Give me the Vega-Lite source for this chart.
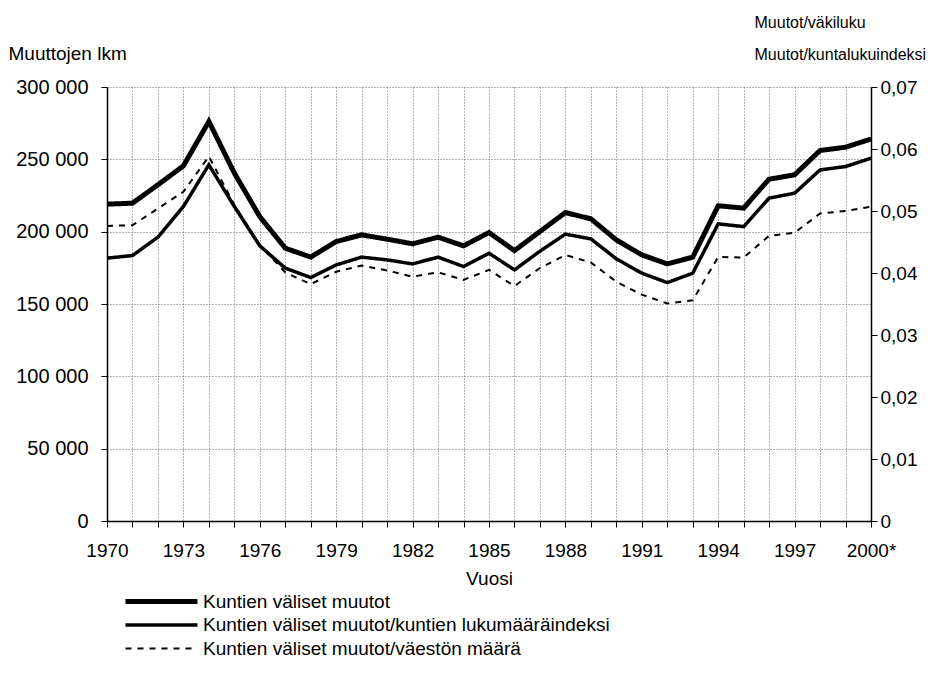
{
  "$schema": "https://vega.github.io/schema/vega-lite/v6.json",
  "width": 764,
  "height": 434,
  "autosize": {"type": "none"},
  "padding": {"left": 107, "top": 87, "right": 61, "bottom": 166},
  "background": "white",
  "config": {
    "view": {"stroke": null},
    "font": "Liberation Sans",
    "axis": {
      "labelFont": "Liberation Sans",
      "labelFontSize": 19,
      "labelColor": "black",
      "titleFont": "Liberation Sans",
      "titleFontSize": 19,
      "titleFontWeight": "normal",
      "titleColor": "black",
      "domainColor": "black",
      "domainWidth": 1.5,
      "tickColor": "black",
      "tickWidth": 1,
      "tickSize": 6,
      "gridColor": "#666666",
      "gridDash": [1, 2],
      "gridWidth": 1
    }
  },
  "data": {
    "values": [
      {"year": 1970, "series": "A", "value": 219000},
      {"year": 1971, "series": "A", "value": 219700},
      {"year": 1972, "series": "A", "value": 232400},
      {"year": 1973, "series": "A", "value": 245500},
      {"year": 1974, "series": "A", "value": 276200},
      {"year": 1975, "series": "A", "value": 240500},
      {"year": 1976, "series": "A", "value": 210400},
      {"year": 1977, "series": "A", "value": 188600},
      {"year": 1978, "series": "A", "value": 182400},
      {"year": 1979, "series": "A", "value": 193200},
      {"year": 1980, "series": "A", "value": 197800},
      {"year": 1981, "series": "A", "value": 194800},
      {"year": 1982, "series": "A", "value": 191600},
      {"year": 1983, "series": "A", "value": 196200},
      {"year": 1984, "series": "A", "value": 190200},
      {"year": 1985, "series": "A", "value": 199400},
      {"year": 1986, "series": "A", "value": 186900},
      {"year": 1987, "series": "A", "value": 200100},
      {"year": 1988, "series": "A", "value": 213200},
      {"year": 1989, "series": "A", "value": 208900},
      {"year": 1990, "series": "A", "value": 194300},
      {"year": 1991, "series": "A", "value": 184000},
      {"year": 1992, "series": "A", "value": 177700},
      {"year": 1993, "series": "A", "value": 182400},
      {"year": 1994, "series": "A", "value": 217900},
      {"year": 1995, "series": "A", "value": 216300},
      {"year": 1996, "series": "A", "value": 236300},
      {"year": 1997, "series": "A", "value": 239300},
      {"year": 1998, "series": "A", "value": 256100},
      {"year": 1999, "series": "A", "value": 258400},
      {"year": 2000, "series": "A", "value": 264000},
      {"year": 1970, "series": "B", "value": 181700},
      {"year": 1971, "series": "B", "value": 183500},
      {"year": 1972, "series": "B", "value": 196200},
      {"year": 1973, "series": "B", "value": 217400},
      {"year": 1974, "series": "B", "value": 246200},
      {"year": 1975, "series": "B", "value": 217400},
      {"year": 1976, "series": "B", "value": 190200},
      {"year": 1977, "series": "B", "value": 174800},
      {"year": 1978, "series": "B", "value": 168300},
      {"year": 1979, "series": "B", "value": 177000},
      {"year": 1980, "series": "B", "value": 182400},
      {"year": 1981, "series": "B", "value": 180500},
      {"year": 1982, "series": "B", "value": 177700},
      {"year": 1983, "series": "B", "value": 182400},
      {"year": 1984, "series": "B", "value": 175900},
      {"year": 1985, "series": "B", "value": 185100},
      {"year": 1986, "series": "B", "value": 173600},
      {"year": 1987, "series": "B", "value": 186500},
      {"year": 1988, "series": "B", "value": 198300},
      {"year": 1989, "series": "B", "value": 195000},
      {"year": 1990, "series": "B", "value": 181200},
      {"year": 1991, "series": "B", "value": 171300},
      {"year": 1992, "series": "B", "value": 164800},
      {"year": 1993, "series": "B", "value": 171300},
      {"year": 1994, "series": "B", "value": 205400},
      {"year": 1995, "series": "B", "value": 203500},
      {"year": 1996, "series": "B", "value": 223200},
      {"year": 1997, "series": "B", "value": 226600},
      {"year": 1998, "series": "B", "value": 242700},
      {"year": 1999, "series": "B", "value": 245000},
      {"year": 2000, "series": "B", "value": 250800},
      {"year": 1970, "series": "C", "value": 0.0476},
      {"year": 1971, "series": "C", "value": 0.0477},
      {"year": 1972, "series": "C", "value": 0.0504},
      {"year": 1973, "series": "C", "value": 0.0531},
      {"year": 1974, "series": "C", "value": 0.0588},
      {"year": 1975, "series": "C", "value": 0.0510},
      {"year": 1976, "series": "C", "value": 0.0445},
      {"year": 1977, "series": "C", "value": 0.0401},
      {"year": 1978, "series": "C", "value": 0.0382},
      {"year": 1979, "series": "C", "value": 0.0402},
      {"year": 1980, "series": "C", "value": 0.0412},
      {"year": 1981, "series": "C", "value": 0.0404},
      {"year": 1982, "series": "C", "value": 0.0394},
      {"year": 1983, "series": "C", "value": 0.0401},
      {"year": 1984, "series": "C", "value": 0.0389},
      {"year": 1985, "series": "C", "value": 0.0405},
      {"year": 1986, "series": "C", "value": 0.0379},
      {"year": 1987, "series": "C", "value": 0.0408},
      {"year": 1988, "series": "C", "value": 0.0429},
      {"year": 1989, "series": "C", "value": 0.0417},
      {"year": 1990, "series": "C", "value": 0.0386},
      {"year": 1991, "series": "C", "value": 0.0365},
      {"year": 1992, "series": "C", "value": 0.0351},
      {"year": 1993, "series": "C", "value": 0.0356},
      {"year": 1994, "series": "C", "value": 0.0426},
      {"year": 1995, "series": "C", "value": 0.0425},
      {"year": 1996, "series": "C", "value": 0.0460},
      {"year": 1997, "series": "C", "value": 0.0465},
      {"year": 1998, "series": "C", "value": 0.0496},
      {"year": 1999, "series": "C", "value": 0.0500},
      {"year": 2000, "series": "C", "value": 0.0507}
    ]
  },
  "encoding": {
    "x": {
      "field": "year",
      "type": "quantitative",
      "scale": {"domain": [1970, 2000], "nice": false, "zero": false},
      "axis": {
        "values": [1970,1971,1972,1973,1974,1975,1976,1977,1978,1979,1980,1981,1982,1983,1984,1985,1986,1987,1988,1989,1990,1991,1992,1993,1994,1995,1996,1997,1998,1999,2000],
        "labelExpr": "(datum.value - 1970) % 3 == 0 ? (datum.value == 2000 ? '2000*' : '' + datum.value) : ''",
        "labelFlush": false,
        "labelOverlap": false,
        "labelPadding": 14,
        "grid": true,
        "title": "Vuosi",
        "titleBaseline": "alphabetic",
        "titleY": 63
      }
    },
    "strokeWidth": {
      "field": "series",
      "type": "nominal",
      "scale": {"domain": ["A", "B", "C"], "range": [5, 2, 2.8]},
      "legend": {
        "title": null,
        "orient": "none",
        "legendX": 75,
        "legendY": 505,
        "direction": "vertical",
        "padding": 0,
        "symbolType": "M-11,0L1,0",
        "symbolSize": 144,
        "symbolStrokeColor": "black",
        "symbolFillColor": "transparent",
        "labelFont": "Liberation Sans",
        "labelFontSize": 19,
        "labelColor": "black",
        "labelLimit": 0,
        "labelOffset": 2,
        "rowPadding": 3.5,
        "labelExpr": "datum.value == 'A' ? 'Kuntien väliset muutot' : datum.value == 'B' ? 'Kuntien väliset muutot/kuntien lukumääräindeksi' : 'Kuntien väliset muutot/väestön määrä'"
      }
    },
    "strokeDash": {
      "field": "series",
      "type": "nominal",
      "scale": {"domain": ["A", "B", "C"], "range": [[1, 0], [1, 0], [6, 6]]},
      "legend": {
        "title": null,
        "orient": "none",
        "legendX": 75,
        "legendY": 505,
        "direction": "vertical",
        "padding": 0,
        "symbolType": "M-11,0L1,0",
        "symbolSize": 144,
        "symbolStrokeColor": "black",
        "symbolFillColor": "transparent",
        "labelFont": "Liberation Sans",
        "labelFontSize": 19,
        "labelColor": "black",
        "labelLimit": 0,
        "labelOffset": 2,
        "rowPadding": 3.5,
        "labelExpr": "datum.value == 'A' ? 'Kuntien väliset muutot' : datum.value == 'B' ? 'Kuntien väliset muutot/kuntien lukumääräindeksi' : 'Kuntien väliset muutot/väestön määrä'"
      }
    }
  },
  "layer": [
    {
      "transform": [{"filter": "datum.series != 'C'"}],
      "mark": {"type": "line", "color": "black", "strokeJoin": "miter"},
      "encoding": {
        "y": {
          "field": "value",
          "type": "quantitative",
          "scale": {"domain": [0, 300000], "nice": false},
          "axis": {
            "orient": "left",
            "values": [0, 50000, 100000, 150000, 200000, 250000, 300000],
            "labelExpr": "datum.value == 0 ? '0' : replace(format(datum.value, ','), ',', ' ')",
            "labelFontSize": 20,
            "labelPadding": 13,
            "grid": true,
            "title": "Muuttojen lkm",
            "titleAngle": 0,
            "titleAlign": "left",
            "titleBaseline": "alphabetic",
            "titleX": -99,
            "titleY": -28
          }
        }
      }
    },
    {
      "transform": [{"filter": "datum.series == 'C'"}],
      "mark": {"type": "line", "color": "black"},
      "encoding": {
        "y": {
          "field": "value",
          "type": "quantitative",
          "scale": {"domain": [0, 0.07], "nice": false},
          "axis": {
            "orient": "right",
            "values": [0, 0.01, 0.02, 0.03, 0.04, 0.05, 0.06, 0.07],
            "labelExpr": "datum.value == 0 ? '0' : replace(format(datum.value, '.2f'), '.', ',')",
            "labelPadding": 3,
            "grid": false,
            "title": ["Muutot/väkiluku", "Muutot/kuntalukuindeksi"],
            "titleFontSize": 16,
            "titleAngle": 0,
            "titleAlign": "left",
            "titleBaseline": "alphabetic",
            "titleLineHeight": 32,
            "titleX": -117,
            "titleY": -60
          }
        }
      }
    }
  ],
  "resolve": {"scale": {"y": "independent"}}
}
